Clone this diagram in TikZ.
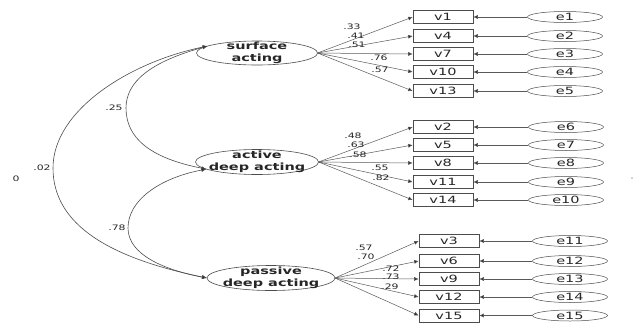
\documentclass[tikz,border=0pt]{standalone}
\usepackage{fontspec}
\newfontfamily\wf[FakeStretch=1.45]{DejaVu Sans}
\usetikzlibrary{shapes.geometric,arrows.meta}
\begin{document}
\begin{tikzpicture}[x=1pt,y=-1pt,
  lat/.style={ellipse,draw=black!70,line width=0.6pt,inner sep=0pt,outer sep=0pt,minimum width=121,minimum height=24},
  latlab/.style={align=center,inner sep=0pt,text=black!85,font=\wf\bfseries\fontsize{10}{11.5}\selectfont},
  obs/.style={rectangle,draw=black!70,line width=0.6pt,minimum width=60,minimum height=13,inner sep=0pt,text=black!85,font=\wf\fontsize{10}{10}\selectfont},
  err/.style={ellipse,draw=black!70,line width=0.5pt,minimum width=75,minimum height=11,inner sep=0pt,text=black!85,font=\wf\fontsize{10}{10}\selectfont},
  ld/.style={inner sep=0pt,text=black!85,font=\wf\fontsize{7.5}{7.5}\selectfont},
  arr/.style={draw=black!65,line width=0.5pt,-{Latex[length=4.5pt,width=4pt,fill=black!85]}},
  cov/.style={draw=black!70,line width=0.6pt,{Latex[length=5pt,width=4pt,fill=black!85]}-{Latex[length=5pt,width=4pt,fill=black!85]}}
]
\useasboundingbox (0,0) rectangle (635,322);

% latent variables
\node[lat,label={[latlab]center:surface\\acting}] (S) at (257,53) {};
\node[lat,minimum width=123,minimum height=25,label={[latlab]center:active\\deep acting}] (A) at (257,162) {};
\node[lat,minimum width=128,minimum height=25,label={[latlab]center:passive\\deep acting}] (P) at (271,278) {};

% group 1
\node[obs] (v1) at (443,17) {v1};
\node[obs] (v4) at (443,36) {v4};
\node[obs] (v7) at (443,54) {v7};
\node[obs] (v10) at (443,72) {v10};
\node[obs] (v13) at (443,91) {v13};
\node[err] (e1) at (565,17) {e1};
\node[err] (e2) at (565,36) {e2};
\node[err] (e3) at (565,54) {e3};
\node[err] (e4) at (565,72) {e4};
\node[err] (e5) at (565,91) {e5};

% group 2
\node[obs] (v2) at (443,127) {v2};
\node[obs] (v5) at (443,145) {v5};
\node[obs] (v8) at (443,163) {v8};
\node[obs] (v11) at (443,182) {v11};
\node[obs] (v14) at (443,200) {v14};
\node[err] (e6) at (566,127) {e6};
\node[err] (e7) at (566,145) {e7};
\node[err] (e8) at (566,163) {e8};
\node[err] (e9) at (566,182) {e9};
\node[err] (e10) at (566,200) {e10};

% group 3
\node[obs] (v3) at (449,241) {v3};
\node[obs] (v6) at (449,261) {v6};
\node[obs] (v9) at (449,279) {v9};
\node[obs] (v12) at (449,297) {v12};
\node[obs] (v15) at (449,315.5) {v15};
\node[err] (e11) at (570,241) {e11};
\node[err] (e12) at (570,261) {e12};
\node[err] (e13) at (570,279) {e13};
\node[err] (e14) at (570,297) {e14};
\node[err] (e15) at (570,315.5) {e15};

% loadings
\foreach \v in {v1,v4,v7,v10,v13} \draw[arr] (S.east) -- (\v.west);
\foreach \v in {v2,v5,v8,v11,v14} \draw[arr] (A.east) -- (\v.west);
\foreach \v in {v3,v6,v9,v12,v15} \draw[arr] (P.east) -- (\v.west);

% errors
\foreach \e/\v in {e1/v1,e2/v4,e3/v7,e4/v10,e5/v13,e6/v2,e7/v5,e8/v8,e9/v11,e10/v14,e11/v3,e12/v6,e13/v9,e14/v12,e15/v15}
  \draw[arr] (\e.west) -- (\v.east);

% loading labels
\node[ld] (l1) at (352,27) {.33};
\node[ld] (l2) at (356,36) {.41};
\node[ld] (l3) at (357,45) {.51};
\node[ld] (l4) at (379,58) {.76};
\node[ld] (l5) at (380,70) {.57};
\node[ld] (l6) at (353,136) {.48};
\node[ld] (l7) at (356,145) {.63};
\node[ld] (l8) at (358,155) {.58};
\node[ld] (l9) at (380,168) {.55};
\node[ld] (l10) at (381,178) {.82};
\node[ld] (l11) at (364,248) {.57};
\node[ld] (l12) at (366,257) {.70};
\node[ld] (l13) at (391,269) {.72};
\node[ld] (l14) at (391,277) {.73};
\node[ld] (l15) at (390,287) {.29};

% covariances
\draw[cov] (S.172) .. controls (150,62) and (126,82) .. (126,108) .. controls (126,138) and (150,158) .. (A.188);
\draw[cov] (A.188) .. controls (160,178) and (128,200) .. (128,228) .. controls (128,255) and (165,270) .. (P.180);
\draw[cov] (S.172) .. controls (130,62) and (53,110) .. (53,168) .. controls (53,225) and (110,258) .. (P.180);

\node[ld] (c1) at (114,108) {.25};
\node[ld] (c2) at (117,228) {.78};
\node[ld] (c3) at (42,168) {.02};
\node[ld] (z1) at (16,179) {0};
\node[ld,font=\wf\fontsize{5}{5}\selectfont] (z2) at (632,180) {'};
\end{tikzpicture}
\end{document}
